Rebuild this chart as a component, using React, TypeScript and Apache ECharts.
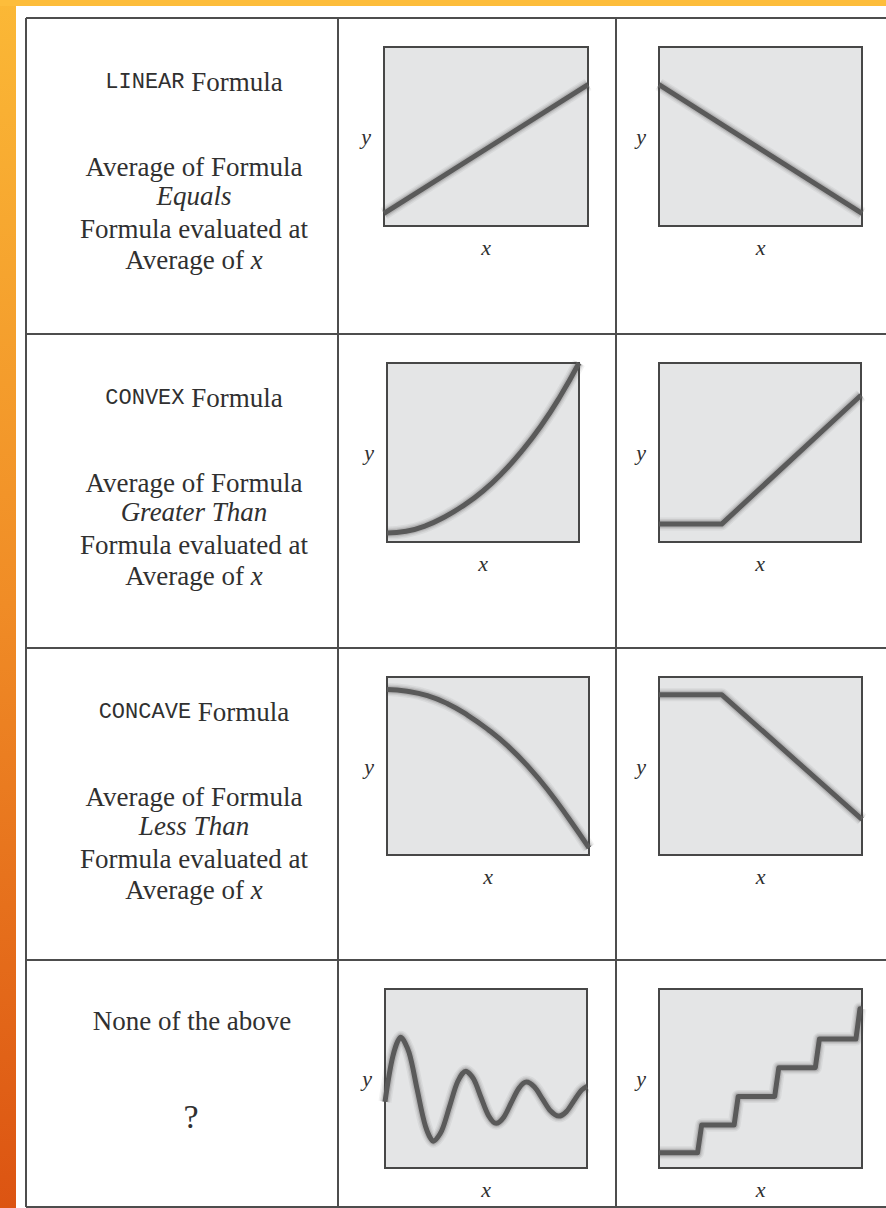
import React, { useEffect, useRef } from "react";
import * as echarts from "echarts";

// ---- curve data (x and y both on a 0–10 scale inside every panel) ----
const linearUpX = [0, 10];
const linearUpY = [0.7, 7.9];

const linearDownX = [0, 10];
const linearDownY = [7.9, 0.7];

const convexX = [0, 1, 2, 3, 4, 5, 6, 7, 8, 9, 10];
const convexY = [0.5, 0.6, 0.9, 1.4, 2.05, 2.85, 3.85, 5.05, 6.45, 8.1, 10.0];

const kinkUpX = [0, 3.1, 10];
const kinkUpY = [1.0, 1.0, 8.2];

const concaveX = [0, 1, 2, 3, 4, 5, 6, 7, 8, 9, 10];
const concaveY = [9.3, 9.2, 8.95, 8.5, 7.85, 7.05, 6.1, 4.95, 3.6, 2.05, 0.4];

const kinkDownX = [0, 3.1, 10];
const kinkDownY = [9.0, 9.0, 2.0];

const waveX = [
  0, 0.39, 0.78, 1.19, 1.59, 2.0, 2.4, 2.8, 3.2, 3.6, 4.0, 4.38, 4.75, 5.13, 5.5,
  5.88, 6.25, 6.63, 7.0, 7.4, 7.8, 8.2, 8.6, 8.98, 9.35, 9.73, 10,
];
const waveY = [
  3.7, 6.25, 7.3, 6.45, 4.4, 2.35, 1.5, 2.07, 3.45, 4.83, 5.4, 4.98, 3.95, 2.92, 2.5,
  2.84, 3.65, 4.46, 4.8, 4.52, 3.85, 3.18, 2.9, 3.15, 3.75, 4.35, 4.55,
];

const stairX = [0, 1.9, 2.1, 3.7, 3.9, 5.7, 5.9, 7.7, 7.9, 9.7, 9.9, 10];
const stairY = [0.85, 0.85, 2.4, 2.4, 4.0, 4.0, 5.6, 5.6, 7.2, 7.2, 8.9, 8.9];

// ---- left-column wording ----
const rowKinds = ["LINEAR", "CONVEX", "CONCAVE"];
const rowRelations = ["Equals", "Greater Than", "Less Than"];
const otherTitle = "None of the above";
const otherMark = "?";
const axisNameX = "x";
const axisNameY = "y";

// ---- layout ----
const W = 886;
const H = 1208;
const rowTops = [18, 334, 648, 960];
const tableBottom = 1207;
const tableLeft = 26;
const colDividers = [338, 616];
const textCenterX = 194;
const lineOffsets = [73.5, 158.5, 187.5, 220.5, 251.5];

const panelBoxes = [
  { left: 384, top: 47, width: 204, height: 179 },
  { left: 659, top: 47, width: 203, height: 179 },
  { left: 387, top: 363, width: 192, height: 179 },
  { left: 659, top: 363, width: 202, height: 179 },
  { left: 387, top: 677, width: 202, height: 178 },
  { left: 659, top: 677, width: 203, height: 178 },
  { left: 385, top: 989, width: 202, height: 179 },
  { left: 659, top: 989, width: 203, height: 179 },
];

const panelCurves = [
  { xs: linearUpX, ys: linearUpY, smooth: false },
  { xs: linearDownX, ys: linearDownY, smooth: false },
  { xs: convexX, ys: convexY, smooth: true },
  { xs: kinkUpX, ys: kinkUpY, smooth: false },
  { xs: concaveX, ys: concaveY, smooth: true },
  { xs: kinkDownX, ys: kinkDownY, smooth: false },
  { xs: waveX, ys: waveY, smooth: 0.3 },
  { xs: stairX, ys: stairY, smooth: false },
];

// blurred edge around each curve: wide faint strokes stacked under the line
const haloLayers = [
  { width: 13, color: "rgba(70,70,70,0.07)" },
  { width: 10, color: "rgba(70,70,70,0.10)" },
  { width: 7.5, color: "rgba(70,70,70,0.16)" },
];

const SERIF = '"Liberation Serif", "Times New Roman", serif';
const MONO = '"Liberation Mono", "Courier New", monospace';
const INK = "#303030";
const RULE = "#4d4d4d";
const SERIF_SIZE = 27;

function textAt(text: string, x: number, baseline: number, size = SERIF_SIZE, rich?: any): any {
  return {
    type: "text",
    x,
    y: baseline - size * 0.35,
    silent: true,
    style: {
      text,
      fill: INK,
      fontFamily: SERIF,
      fontSize: size,
      align: "center",
      verticalAlign: "middle",
      rich,
    },
  };
}

const richStyles = {
  m: { fontFamily: MONO, fontSize: 22, color: "#6e6e6e" },
  i: { fontFamily: SERIF, fontStyle: "italic", fontSize: SERIF_SIZE, color: INK },
};

function buildGraphics(): any[] {
  const g: any[] = [];
  // orange frame strips
  g.push({
    type: "rect",
    shape: { x: 0, y: 0, width: 16, height: H },
    silent: true,
    style: {
      fill: new echarts.graphic.LinearGradient(0, 0, 0, 1, [
        { offset: 0, color: "#fbb836" },
        { offset: 0.5, color: "#f08c26" },
        { offset: 1, color: "#dc5412" },
      ]),
    },
  });
  g.push({
    type: "rect",
    shape: { x: 0, y: 0, width: W, height: 6 },
    silent: true,
    style: { fill: "#fdbd3b" },
  });

  // table rules
  const lineStyle = { stroke: RULE, lineWidth: 2 };
  rowTops.forEach((y) =>
    g.push({ type: "line", silent: true, shape: { x1: tableLeft, y1: y, x2: W, y2: y }, style: lineStyle })
  );
  g.push({ type: "line", silent: true, shape: { x1: tableLeft, y1: tableBottom, x2: W, y2: tableBottom }, style: lineStyle });
  [tableLeft, ...colDividers].forEach((x) =>
    g.push({ type: "line", silent: true, shape: { x1: x, y1: rowTops[0], x2: x, y2: tableBottom }, style: lineStyle })
  );

  // left-column text
  rowKinds.forEach((kind, r) => {
    const top = rowTops[r];
    g.push(textAt(`{m|${kind}} Formula`, textCenterX, top + lineOffsets[0], SERIF_SIZE, richStyles));
    g.push(textAt("Average of Formula", textCenterX, top + lineOffsets[1]));
    g.push(textAt(`{i|${rowRelations[r]}}`, textCenterX, top + lineOffsets[2], SERIF_SIZE, richStyles));
    g.push(textAt("Formula evaluated at", textCenterX, top + lineOffsets[3]));
    g.push(textAt("Average of {i|x}", textCenterX, top + lineOffsets[4], SERIF_SIZE, richStyles));
  });
  g.push(textAt(otherTitle, 192, rowTops[3] + 70));
  g.push(textAt(otherMark, 191, rowTops[3] + 168, 34));
  return g;
}

export default function App() {
  const ref = useRef<HTMLDivElement>(null);

  useEffect(() => {
    if (!ref.current) return;
    const chart = echarts.init(ref.current, undefined, { renderer: "svg" });

    const nameStyle = { fontFamily: SERIF, fontStyle: "italic", fontSize: 22, color: INK };

    const curveData = panelCurves.map((c) => c.xs.map((x, k) => [x, c.ys[k]]));

    const makeSeries = (i: number, z: number, width: number, color: string) => ({
      type: "line",
      xAxisIndex: i,
      yAxisIndex: i,
      data: curveData[i],
      smooth: panelCurves[i].smooth,
      showSymbol: false,
      symbol: "none",
      clip: true,
      silent: true,
      z,
      lineStyle: { color, width, cap: "butt", join: "round" },
    });

    const series: any[] = [];
    haloLayers.forEach((h, k) =>
      panelCurves.forEach((_, i) => series.push(makeSeries(i, 1 + k * 0.1, h.width, h.color)))
    );
    panelCurves.forEach((_, i) => series.push(makeSeries(i, 2, 5, "#5a5a5a")));

    chart.setOption({
      animation: false,
      backgroundColor: "#ffffff",
      grid: panelBoxes.map((b) => ({
        ...b,
        show: true,
        backgroundColor: "#e4e5e6",
        borderColor: "#474747",
        borderWidth: 2,
      })),
      xAxis: panelBoxes.map((_, i) => ({
        gridIndex: i,
        type: "value",
        min: 0,
        max: 10,
        axisLine: { show: false },
        axisTick: { show: false },
        axisLabel: { show: false },
        splitLine: { show: false },
        name: axisNameX,
        nameLocation: "middle",
        nameGap: 10,
        nameTextStyle: nameStyle,
      })),
      yAxis: panelBoxes.map((_, i) => ({
        gridIndex: i,
        type: "value",
        min: 0,
        max: 10,
        axisLine: { show: false },
        axisTick: { show: false },
        axisLabel: { show: false },
        splitLine: { show: false },
        name: axisNameY,
        nameLocation: "middle",
        nameRotate: 0,
        nameGap: 13,
        nameTextStyle: nameStyle,
      })),
      series,
      graphic: buildGraphics(),
    });

    return () => chart.dispose();
  }, []);

  return (
    <div
      ref={ref}
      style={{ position: "absolute", left: 0, top: 0, width: W, height: H }}
    />
  );
}
